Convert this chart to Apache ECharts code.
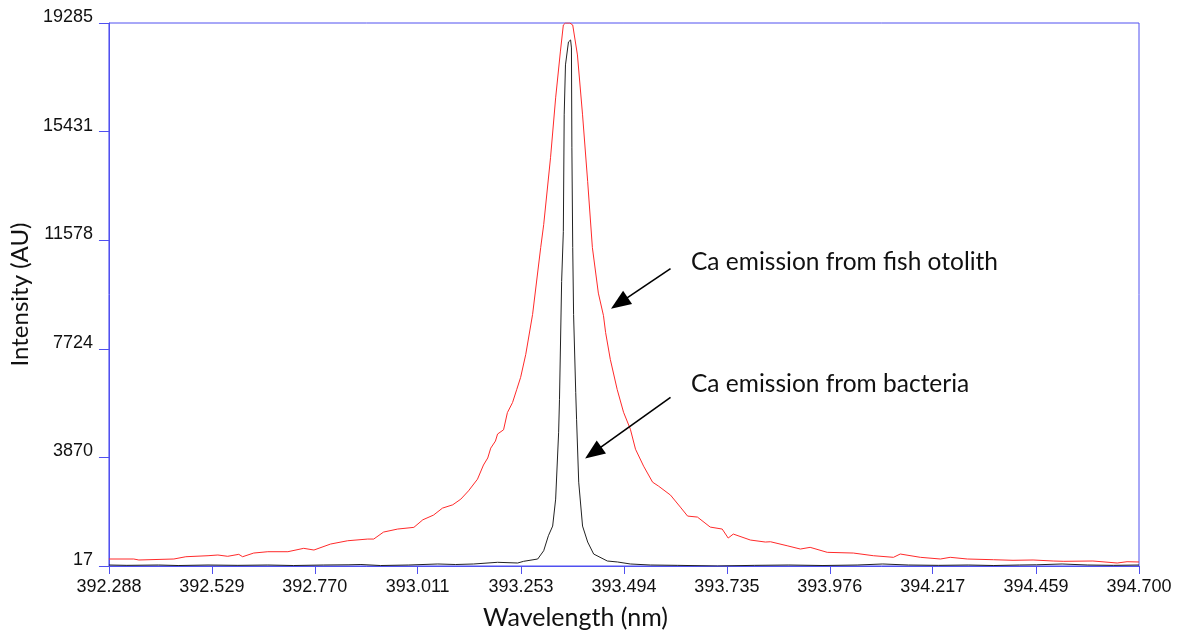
<!DOCTYPE html>
<html>
<head>
<meta charset="utf-8">
<script src="https://cdn.jsdelivr.net/npm/echarts@6/dist/echarts.min.js"></script>
<style>
html,body{margin:0;padding:0;background:#fff;}
#chart{width:1184px;height:635px;}
</style>
</head>
<body>
<div id="chart"></div>
<script>
// Tick labels
var xTickValues = [392.288, 392.529, 392.770, 393.011, 393.253, 393.494, 393.735, 393.976, 394.217, 394.459, 394.700];
var yTickValues = [17, 3870, 7724, 11578, 15431, 19285];

// Ca emission from fish otolith (red)
var otolithWavelength = [392.288,392.346,392.358,392.440,392.468,392.520,392.543,392.566,392.592,392.601,392.627,392.660,392.707,392.744,392.768,392.807,392.847,392.894,392.908,392.931,392.964,393.002,393.023,393.048,393.069,393.093,393.112,393.130,393.151,393.165,393.175,393.182,393.193,393.198,393.212,393.221,393.233,393.243,393.252,393.264,393.280,393.299,393.306,393.322,393.334,393.345,393.352,393.357,393.367,393.374,393.385,393.397,393.409,393.420,393.434,393.446,393.451,393.462,393.478,393.493,393.509,393.521,393.540,393.561,393.575,393.603,393.626,393.643,393.666,393.696,393.724,393.738,393.750,393.790,393.825,393.837,393.876,393.907,393.930,393.970,394.031,394.078,394.125,394.141,394.188,394.235,394.258,394.298,394.359,394.405,394.452,394.499,394.524,394.592,394.649,394.672,394.700];
var otolithIntensity = [265,265,230,265,346,382,407,361,431,346,477,524,524,644,584,796,913,973,973,1221,1328,1388,1657,1823,2071,2188,2390,2684,3098,3600,3850,4200,4450,4700,4850,5461,5815,6286,6711,7526,8943,11316,12130,14503,16629,18258,19214,19285,19285,19214,18152,16027,13654,11316,9700,8900,8300,7349,6286,5472,4869,4161,3559,2992,2851,2532,2107,1788,1753,1398,1328,1009,1150,938,867,878,736,619,679,502,477,382,325,442,325,265,325,265,240,219,230,194,183,194,123,169,159];

// Ca emission from bacteria (black)
var bacteriaWavelength = [392.288,392.330,392.404,392.450,392.520,392.590,392.660,392.720,392.790,392.850,392.878,392.924,392.990,393.058,393.100,393.142,393.198,393.245,393.259,393.292,393.306,393.317,393.327,393.334,393.341,393.343,393.348,393.352,393.354,393.357,393.364,393.369,393.371,393.372,393.374,393.376,393.381,393.383,393.388,393.397,393.409,393.423,393.455,393.479,393.509,393.556,393.620,393.713,393.800,393.880,393.960,394.040,394.100,394.160,394.230,394.300,394.360,394.420,394.460,394.520,394.580,394.640,394.700];
var bacteriaIntensity = [52,40,52,34,52,40,52,34,52,60,70,34,52,88,70,88,148,123,183,265,559,1090,1434,2390,4763,5932,10112,11883,16027,17798,18613,18683,18400,14858,11316,8943,6180,5224,2992,1434,867,442,194,159,88,52,40,17,40,52,34,52,88,52,40,52,34,52,60,88,52,40,52];

function zip(xs, ys){ return xs.map(function(x,i){ return [x, ys[i]]; }); }

var axisColor = '#5050f0';
var chart = echarts.init(document.getElementById('chart'), null, {renderer:'canvas'});
chart.setOption({
  animation: false,
  backgroundColor: '#ffffff',
  grid: {left:108, right:45, top:23, bottom:68, show:true, borderColor:axisColor, borderWidth:1, backgroundColor:'transparent'},
  xAxis: {
    type:'value', min:392.288, max:394.700,
    name:'Wavelength (nm)', nameLocation:'middle', nameGap:39,
    nameTextStyle:{fontFamily:'Lato', fontSize:25, color:'#111', padding:[0,97,0,0]},
    axisLine:{show:true, onZero:false, lineStyle:{color:axisColor, width:1}},
    axisTick:{show:true, length:8, lineStyle:{color:axisColor}, customValues:xTickValues},
    axisLabel:{customValues:xTickValues, formatter:function(v){return v.toFixed(3);}, fontFamily:'Liberation Sans', fontSize:18, color:'#111', margin:12, showMinLabel:true, showMaxLabel:true},
    splitLine:{show:false}
  },
  yAxis: {
    type:'value', min:17, max:19285,
    name:'Intensity (AU)', nameLocation:'middle', nameGap:75,
    nameTextStyle:{fontFamily:'Lato', fontSize:24, color:'#111'},
    axisLine:{show:true, onZero:false, lineStyle:{color:axisColor, width:1}},
    axisTick:{show:true, length:10, lineStyle:{color:axisColor}, customValues:yTickValues},
    axisLabel:{customValues:yTickValues, formatter:function(v){return String(v);}, fontFamily:'Liberation Sans', fontSize:18, lineHeight:12, color:'#111', margin:16, verticalAlign:'bottom', showMinLabel:true, showMaxLabel:true},
    splitLine:{show:false}
  },
  series: [
    {
      type:'line', name:'otolith', data:zip(otolithWavelength, otolithIntensity),
      showSymbol:false, symbol:'none', lineStyle:{color:'#ff2a2a', width:1}, silent:true, clip:true,
      markLine:{
        silent:true, symbol:['none','triangle'], symbolSize:[16,20],
        label:{show:false}, lineStyle:{color:'#000', width:1.6, type:'solid'},
        data:[[{coord:[393.603,10572]},{coord:[393.483,9347]}], [{coord:[393.603,6003]},{coord:[393.422,4037]}]]
      }
    },
    {
      type:'line', name:'bacteria', data:zip(bacteriaWavelength, bacteriaIntensity),
      showSymbol:false, symbol:'none', lineStyle:{color:'#222', width:1}, silent:true, clip:true
    }
  ],
  graphic: [
    {type:'text', left:691, top:250, style:{text:'Ca emission from fish otolith', font:'24.5px Lato', fill:'#111'}},
    {type:'text', left:691, top:372, style:{text:'Ca emission from bacteria', font:'24.5px Lato', fill:'#111'}}
  ]
});
</script>
</body>
</html>
